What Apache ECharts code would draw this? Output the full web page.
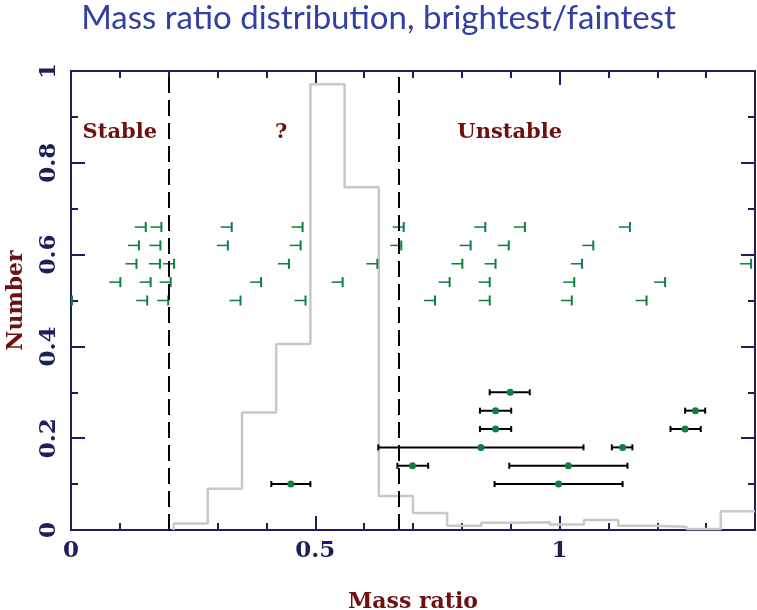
<!DOCTYPE html>
<html>
<head>
<meta charset="utf-8">
<script src="https://cdn.jsdelivr.net/npm/echarts@6/dist/echarts.min.js"></script>
<style>
    html, body { margin: 0; padding: 0; background: #fff; }
    #figure { width: 757px; height: 610px; }
</style>
</head>
<body>
<div id="figure"></div>
<script>
// histogram of the mass ratio (bin edges + normalised heights)
let hist_edges = [0.21, 0.28, 0.35, 0.42, 0.49, 0.56, 0.63, 0.70, 0.77, 0.84, 0.91, 0.98, 1.05, 1.12, 1.19, 1.26, 1.33, 1.40];
let hist_heights = [0.014, 0.090, 0.256, 0.405, 0.971, 0.747, 0.074, 0.037, 0.009, 0.016, 0.017, 0.012, 0.022, 0.009, 0.007, 0.002, 0.041];

// upper limits, one list per row
let limit_rows = [0.66, 0.62, 0.58, 0.54, 0.50];
let limit_values = [
    [0.153, 0.185, 0.329, 0.474, 0.681, 0.848, 0.929, 1.144],
    [0.139, 0.183, 0.321, 0.470, 0.676, 0.818, 0.896, 1.069],
    [0.134, 0.182, 0.211, 0.446, 0.627, 0.801, 0.869, 1.046, 1.392],
    [0.101, 0.163, 0.204, 0.389, 0.556, 0.775, 0.857, 1.030, 1.216],
    [0.002, 0.156, 0.199, 0.347, 0.480, 0.745, 0.857, 1.025, 1.178]
];

// measured ratios with errors
let point_x = [0.899, 0.869, 0.869, 0.839, 0.699, 0.450, 1.018, 0.998, 1.129, 1.278, 1.257];
let point_lo = [0.857, 0.837, 0.837, 0.629, 0.668, 0.410, 0.897, 0.867, 1.107, 1.257, 1.227];
let point_hi = [0.939, 0.901, 0.901, 1.049, 0.731, 0.490, 1.139, 1.129, 1.149, 1.298, 1.289];
let point_y = [0.30, 0.26, 0.22, 0.18, 0.14, 0.10, 0.14, 0.10, 0.18, 0.26, 0.22];

// region boundaries and names
let region_lines = [0.2, 0.667];
let region_names = ['Stable', '?', 'Unstable'];
let region_x = [0.1, 0.43, 0.898];
let region_y = 0.865;

let x_labels = [0, 0.5, 1];

let navy = '#1c1f5c';
let green = '#0b8040';
let dark_red = '#6e1010';
let serif = '"DejaVu Serif", serif';

function make_axis(dim, position, interval, tick_len, is_main) {
    let axis = {
        type: 'value',
        position: position,
        min: 0,
        max: dim === 'x' ? 1.4 : 1,
        interval: interval,
        axisLine: { show: true, onZero: false, lineStyle: { color: navy, width: 2 } },
        axisTick: { show: true, inside: true, length: tick_len, lineStyle: { color: navy, width: 2 } },
        splitLine: { show: false },
        axisLabel: { show: false }
    };
    if (is_main) {
        axis.axisLabel = {
            show: true,
            color: navy,
            fontFamily: serif,
            fontWeight: 'bold',
            fontSize: 23,
            margin: 10,
            rotate: dim === 'y' ? 90 : 0,
            formatter: function (v) {
                if (dim === 'x') {
                    return x_labels.indexOf(Math.round(v * 10) / 10) >= 0 ? String(v) : '';
                }
                return String(Math.round(v * 10) / 10);
            }
        };
        axis.nameLocation = 'middle';
        axis.nameTextStyle = { color: dark_red, fontFamily: serif, fontWeight: 'bold', fontSize: 22 };
        if (dim === 'x') {
            axis.name = 'Mass ratio';
            axis.nameGap = 61;
        } else {
            axis.name = 'Number';
            axis.nameGap = 44;
            axis.nameRotate = 90;
        }
    }
    return axis;
}

let hist_data = [[hist_edges[0], 0]];
for (let i = 0; i < hist_heights.length; i++) {
    hist_data.push([hist_edges[i], hist_heights[i]]);
}
hist_data.push([hist_edges[hist_edges.length - 1], hist_heights[hist_heights.length - 1]]);

let limit_data = [];
for (let r = 0; r < limit_rows.length; r++) {
    for (let k = 0; k < limit_values[r].length; k++) {
        limit_data.push([limit_values[r][k], limit_rows[r]]);
    }
}

let err_data = [];
let dot_data = [];
for (let i = 0; i < point_x.length; i++) {
    err_data.push([point_lo[i], point_hi[i], point_y[i]]);
    dot_data.push([point_x[i], point_y[i]]);
}

let label_data = [];
for (let i = 0; i < region_names.length; i++) {
    label_data.push({ value: [region_x[i], region_y], name: region_names[i] });
}

let myChart = echarts.init(document.getElementById('figure'));
myChart.setOption({
    animation: false,
    backgroundColor: '#fff',
    title: {
        text: 'Mass ratio distribution, brightest/faintest',
        left: 'center',
        top: -3,
        textStyle: { color: '#3340a2', fontFamily: 'Lato', fontWeight: 'normal', fontSize: 33 }
    },
    grid: { left: 71, right: 2, top: 71, bottom: 80, outerBoundsMode: 'none' },
    xAxis: [
        make_axis('x', 'bottom', 0.5, 14, true),
        make_axis('x', 'bottom', 0.1, 7, false),
        make_axis('x', 'top', 0.5, 14, false),
        make_axis('x', 'top', 0.1, 7, false)
    ],
    yAxis: [
        make_axis('y', 'left', 0.2, 14, true),
        make_axis('y', 'left', 0.1, 7, false),
        make_axis('y', 'right', 0.2, 14, false),
        make_axis('y', 'right', 0.1, 7, false)
    ],
    series: [
        {
            type: 'line',
            step: 'end',
            data: hist_data,
            symbol: 'none',
            lineStyle: { color: '#c8c8c8', width: 2.5 },
            silent: true,
            z: 2,
            markLine: {
                silent: true,
                symbol: 'none',
                label: { show: false },
                lineStyle: { color: '#000', width: 2, type: [16, 7] },
                data: region_lines.map(function (v) { return { xAxis: v }; })
            }
        },
        {
            type: 'custom',
            clip: true,
            data: limit_data,
            z: 4,
            renderItem: function (params, api) {
                let p = api.coord([api.value(0), api.value(1)]);
                let left = params.coordSys.x;
                let right = params.coordSys.x + params.coordSys.width;
                let x0 = Math.max(p[0] - 11, left);
                let x1 = Math.min(p[0], right);
                return {
                    type: 'group',
                    children: [
                        { type: 'line', shape: { x1: x0, y1: p[1], x2: x1, y2: p[1] }, style: { stroke: green, lineWidth: 1.5 } },
                        { type: 'line', shape: { x1: x1, y1: p[1] - 5, x2: x1, y2: p[1] + 5 }, style: { stroke: green, lineWidth: 2 } }
                    ]
                };
            }
        },
        {
            type: 'custom',
            clip: true,
            data: err_data,
            z: 4,
            renderItem: function (params, api) {
                let a = api.coord([api.value(0), api.value(2)]);
                let b = api.coord([api.value(1), api.value(2)]);
                let st = { stroke: '#000', lineWidth: 2 };
                return {
                    type: 'group',
                    children: [
                        { type: 'line', shape: { x1: a[0], y1: a[1], x2: b[0], y2: b[1] }, style: st },
                        { type: 'line', shape: { x1: a[0], y1: a[1] - 3, x2: a[0], y2: a[1] + 3 }, style: st },
                        { type: 'line', shape: { x1: b[0], y1: b[1] - 3, x2: b[0], y2: b[1] + 3 }, style: st }
                    ]
                };
            }
        },
        {
            type: 'scatter',
            data: dot_data,
            symbol: 'circle',
            symbolSize: 7,
            itemStyle: { color: green, opacity: 1 },
            z: 5
        },
        {
            type: 'scatter',
            data: label_data,
            symbolSize: 1,
            silent: true,
            itemStyle: { color: 'rgba(0,0,0,0)', opacity: 1 },
            label: {
                show: true,
                position: 'inside',
                formatter: '{b}',
                color: dark_red,
                opacity: 1,
                fontFamily: serif,
                fontWeight: 'bold',
                fontSize: 21
            },
            z: 6
        }
    ]
});
</script>
</body>
</html>
